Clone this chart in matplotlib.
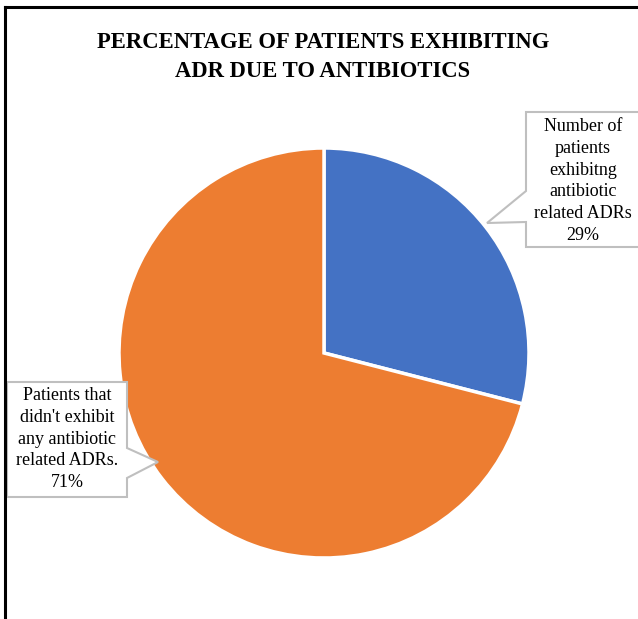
import matplotlib.pyplot as plt
from matplotlib.patches import Polygon
from matplotlib.lines import Line2D

# данные диаграммы
labels = ["Number of\npatients\nexhibitng\nantibiotic\nrelated ADRs\n29%",
          "Patients that\ndidn't exhibit\nany antibiotic\nrelated ADRs.\n71%"]
values = [29, 71]
colors = ["#4472C4", "#ED7D31"]
title = "PERCENTAGE OF PATIENTS EXHIBITING\nADR DUE TO ANTIBIOTICS"

W, H = 638, 619
plt.rcParams['font.family'] = ['Liberation Serif', 'DejaVu Serif']

fig = plt.figure(figsize=(W / 100, H / 100), dpi=100)
ax = fig.add_axes([0, 0, 1, 1])


def py(y):
    # пиксельная координата сверху -> координата снизу
    return H - y


ax.pie(values, colors=colors, startangle=90, counterclock=False,
       center=(324, py(353)), radius=205,
       wedgeprops=dict(edgecolor="white", linewidth=2.5))
ax.set_xlim(0, W)
ax.set_ylim(0, H)
ax.set_aspect("equal")
ax.axis("off")

# рамка диаграммы (видна только слева и сверху)
ax.add_line(Line2D([5, 5], [py(7), 0], color="black", lw=2.2))
ax.add_line(Line2D([5, W], [py(7), py(7)], color="black", lw=2.2))

fig.text(323 / W, py(57) / H, title, ha="center", va="center",
         fontsize=16.3, fontweight="bold", linespacing=1.5)

# выноски
box1 = [(526, 112), (645, 112), (645, 247), (526, 247), (526, 222),
        (487, 223), (526, 191)]
box2 = [(7, 382), (127, 382), (127, 448), (158, 462), (127, 478),
        (127, 497), (7, 497)]
for pts in (box1, box2):
    ax.add_patch(Polygon([(x, py(y)) for x, y in pts], closed=True,
                         facecolor="white", edgecolor="#BFBFBF", lw=1.5,
                         clip_on=False))

ax.text(583, py(181), labels[0], ha="center", va="center",
        fontsize=13, linespacing=1.36)
ax.text(67, py(439), labels[1], ha="center", va="center",
        fontsize=13, linespacing=1.36)

fig.savefig("out.png", dpi=100)
